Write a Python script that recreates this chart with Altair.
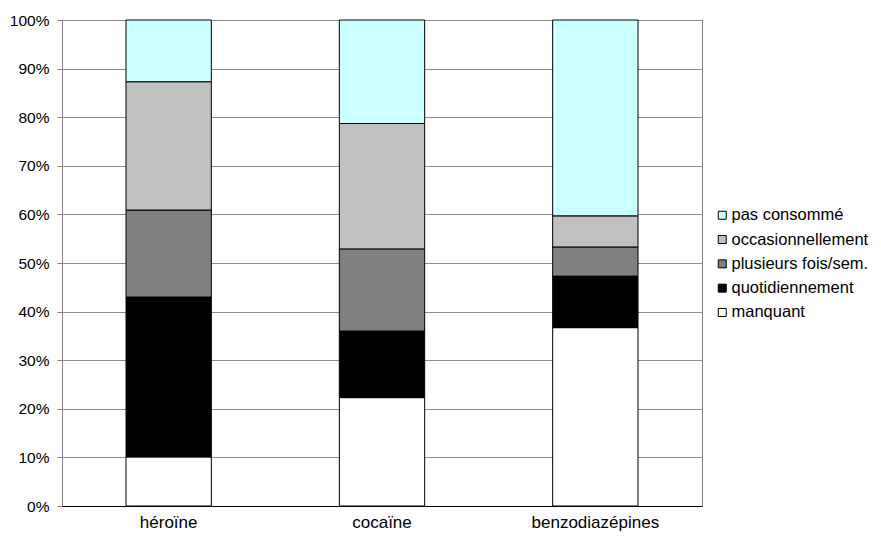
import altair as alt
import pandas as pd

categories = ["héroïne", "cocaïne", "benzodiazépines"]
series = ["pas consommé", "occasionnellement", "plusieurs fois/sem.", "quotidiennement", "manquant"]
colors = ["#CCFFFF", "#C0C0C0", "#808080", "#000000", "#FFFFFF"]

# percentage per category, bottom-to-top order: manquant, quotidiennement, plusieurs, occasionnellement, pas consommé
manquant = [10.1, 22.3, 36.7]
quotidiennement = [32.9, 13.7, 10.6]
plusieurs = [17.9, 16.9, 6.0]
occasionnellement = [26.4, 25.8, 6.4]
pas_consomme = [12.7, 21.3, 40.3]

rows = []
stack_lists = [
    ("manquant", manquant),
    ("quotidiennement", quotidiennement),
    ("plusieurs fois/sem.", plusieurs),
    ("occasionnellement", occasionnellement),
    ("pas consommé", pas_consomme),
]
for order, (name, vals) in enumerate(stack_lists):
    for c, v in zip(categories, vals):
        rows.append({"cat": c, "serie": name, "val": v, "ord": order})
df = pd.DataFrame(rows)

chart = alt.Chart(df).mark_bar(stroke="#000000", strokeWidth=1).encode(
    x=alt.X("cat:N", sort=categories, title=None,
            scale=alt.Scale(paddingInner=0.6, paddingOuter=0.3),
            axis=alt.Axis(labelAngle=0, labelFont="Liberation Sans", labelFontSize=17,
                          labelColor="#000000", labelPadding=8, ticks=False,
                          domainColor="#000000", domainWidth=1)),
    y=alt.Y("val:Q", stack="normalize", title=None,
            scale=alt.Scale(domain=[0, 1], nice=False),
            axis=alt.Axis(format=".0%", values=[i / 10 for i in range(11)],
                          labelFont="Liberation Sans", labelFontSize=15.5, labelColor="#000000",
                          tickSize=5, tickColor="#808080", domainColor="#808080",
                          gridColor="#8C8C8C", gridWidth=1, labelPadding=8)),
    color=alt.Color("serie:N", title=None,
                    scale=alt.Scale(domain=series, range=colors),
                    legend=alt.Legend(orient="none", legendX=652, legendY=187,
                                      symbolType="square", symbolSize=64,
                                      symbolStrokeColor="#000000", symbolStrokeWidth=1,
                                      labelFont="Liberation Sans", labelFontSize=16.5,
                                      labelColor="#000000", labelOffset=1,
                                      labelLimit=300, rowPadding=7.3)),
    order=alt.Order("ord:Q", sort="ascending"),
).properties(
    width=640, height=486,
    autosize=alt.AutoSizeParams(type="none"),
    padding={"left": 54, "top": 12, "right": 171, "bottom": 25},
).configure_view(stroke="#808080", strokeWidth=1)

chart.save("out.html", embed_options={"renderer": "svg", "actions": False})
